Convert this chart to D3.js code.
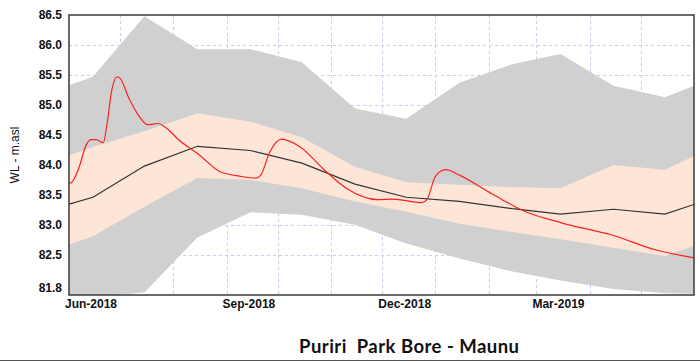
<!DOCTYPE html>
<html>
<head>
<meta charset="utf-8">
<script src="https://cdn.jsdelivr.net/npm/d3@7"></script>
<style>
  html, body { margin: 0; padding: 0; background: #fff; }
  svg { display: block; }
</style>
</head>
<body>
<div id="chart"></div>
<script>
// band / statistic points (mid-month)
const bandDates = ["2018-06-01","2018-06-15","2018-07-15","2018-08-15","2018-09-15","2018-10-15","2018-11-15",
  "2018-12-15","2019-01-15","2019-02-15","2019-03-15","2019-04-15","2019-05-15","2019-06-01"];
const maxVals    = [85.33, 85.47, 86.48, 85.93, 85.93, 85.71, 84.94, 84.77, 85.37, 85.68, 85.85, 85.32, 85.13, 85.32];
const upperVals  = [84.16, 84.30, 84.56, 84.86, 84.72, 84.46, 83.97, 83.71, 83.67, 83.63, 83.61, 84.00, 83.92, 84.15];
const medianVals = [83.345, 83.46, 83.98, 84.31, 84.24, 84.03, 83.68, 83.46, 83.39, 83.27, 83.18, 83.26, 83.18, 83.34];
const lowerVals  = [82.67, 82.81, 83.30, 83.78, 83.75, 83.61, 83.39, 83.22, 83.02, 82.88, 82.76, 82.62, 82.48, 82.65];
const minVals    = [81.75, 81.80, 81.87, 82.79, 83.21, 83.17, 83.00, 82.69, 82.44, 82.22, 82.07, 81.93, 81.86, 81.85];

// observed water level
const obsDates = ["2018-06-01","2018-06-03","2018-06-07","2018-06-11","2018-06-14","2018-06-17","2018-06-21","2018-06-23",
  "2018-06-26","2018-06-29","2018-07-01","2018-07-06","2018-07-12","2018-07-17","2018-07-23","2018-07-28","2018-08-04",
  "2018-08-16","2018-08-28","2018-09-09","2018-09-18","2018-09-21","2018-09-26","2018-10-03","2018-10-14","2018-10-28",
  "2018-11-10","2018-11-28","2018-12-07","2018-12-24","2018-12-27","2019-01-01","2019-01-07","2019-01-15","2019-02-01",
  "2019-02-09","2019-02-21","2019-03-16","2019-04-14","2019-05-10","2019-06-01"];
const obsVals = [83.69, 83.72, 83.97, 84.33, 84.42, 84.42, 84.37, 84.64,
  85.25, 85.47, 85.44, 85.11, 84.81, 84.67, 84.69, 84.61, 84.42,
  84.17, 83.89, 83.81, 83.78, 83.83, 84.20, 84.43, 84.30, 83.92,
  83.61, 83.42, 83.43, 83.37, 83.42, 83.81, 83.92, 83.83, 83.55,
  83.42, 83.24, 83.03, 82.83, 82.58, 82.45];

const yTicks = [81.83, 82.5, 83.0, 83.5, 84.0, 84.5, 85.0, 85.5, 86.0, 86.5];
const xLabelDates = ["2018-06-01","2018-09-01","2018-12-01","2019-03-01"];
const title = "Puriri  Park Bore - Maunu";
const yTitle = "WL - m.asl";

const W = 700, H = 362;
const margin = { top: 15, right: 6, bottom: 67, left: 69 };
const pw = W - margin.left - margin.right;
const ph = H - margin.top - margin.bottom;

const parse = d3.timeParse("%Y-%m-%d");
const fmtX = d3.timeFormat("%b-%Y");

const svg = d3.select("#chart").append("svg")
  .attr("width", W).attr("height", H);

svg.append("rect").attr("width", W).attr("height", H).attr("fill", "#fff");

const g = svg.append("g").attr("transform", `translate(${margin.left},${margin.top})`);

const x = d3.scaleTime()
  .domain([parse("2018-06-01"), parse("2019-06-01")])
  .range([0, pw]);
const y = d3.scaleLinear()
  .domain([81.83, 86.5])
  .range([ph, 0]);

g.append("clipPath").attr("id", "clip")
  .append("rect").attr("width", pw).attr("height", ph);

// grid
const grid = g.append("g").attr("stroke", "#c9c9f5").attr("stroke-dasharray", "3,3").attr("stroke-width", 1);
grid.selectAll("line.h").data(yTicks.slice(1, -1)).enter().append("line")
  .attr("x1", 0).attr("x2", pw)
  .attr("y1", d => Math.round(y(d)) + 0.5).attr("y2", d => Math.round(y(d)) + 0.5);
grid.selectAll("line.v").data(d3.timeMonth.range(parse("2018-07-01"), parse("2019-06-01"))).enter().append("line")
  .attr("y1", 0).attr("y2", ph)
  .attr("x1", d => Math.round(x(d)) + 0.5).attr("x2", d => Math.round(x(d)) + 0.5);

const band = bandDates.map((d, i) => ({
  date: parse(d), max: maxVals[i], up: upperVals[i], med: medianVals[i], lo: lowerVals[i], min: minVals[i]
}));
const obs = obsDates.map((d, i) => ({ date: parse(d), v: obsVals[i] }));

const plot = g.append("g").attr("clip-path", "url(#clip)");

plot.append("path").datum(band)
  .attr("fill", "#d0d0d0")
  .attr("d", d3.area().x(d => x(d.date)).y0(d => y(d.min)).y1(d => y(d.max)));

plot.append("path").datum(band)
  .attr("fill", "#fde5d7")
  .attr("d", d3.area().x(d => x(d.date)).y0(d => y(d.lo)).y1(d => y(d.up)));

plot.append("path").datum(band)
  .attr("fill", "none").attr("stroke", "#333").attr("stroke-width", 1.2)
  .attr("d", d3.line().x(d => x(d.date)).y(d => y(d.med)));

plot.append("path").datum(obs)
  .attr("fill", "none").attr("stroke", "#ff2020").attr("stroke-width", 1.2)
  .attr("d", d3.line().curve(d3.curveMonotoneX).x(d => x(d.date)).y(d => y(d.v)));

// frame
g.append("rect").attr("width", pw).attr("height", ph)
  .attr("fill", "none").attr("stroke", "#3a3a3a").attr("stroke-width", 1.5);

// y tick labels
g.selectAll("text.yt").data(yTicks).enter().append("text")
  .attr("x", -7)
  .attr("y", (d, i) => y(d) - (i === 0 ? 7 : 0))
  .attr("dy", "0.35em")
  .attr("text-anchor", "end")
  .attr("font-family", "Liberation Sans, Arial, sans-serif")
  .attr("font-weight", "bold").attr("font-size", 12).attr("fill", "#111")
  .text(d => d3.format(".1f")(d));

// x tick labels
g.selectAll("text.xt").data(xLabelDates.map(parse)).enter().append("text")
  .attr("x", d => x(d) - 4)
  .attr("y", ph + 13)
  .attr("text-anchor", "start")
  .attr("font-family", "Liberation Sans, Arial, sans-serif")
  .attr("font-weight", "bold").attr("font-size", 12).attr("fill", "#111")
  .text(d => fmtX(d));

// y title
svg.append("text")
  .attr("transform", `translate(19,${margin.top + ph / 2}) rotate(-90)`)
  .attr("text-anchor", "middle")
  .attr("font-family", "Liberation Sans, Arial, sans-serif")
  .attr("font-size", 12).attr("fill", "#111")
  .text(yTitle);

// chart title
svg.append("text")
  .attr("x", 409).attr("y", 353)
  .attr("text-anchor", "middle")
  .attr("font-family", "Lato, 'Open Sans', sans-serif")
  .attr("font-weight", "bold").attr("font-size", 18.5).attr("fill", "#111")
  .attr("textLength", 220).attr("lengthAdjust", "spacing")
  .style("white-space", "pre")
  .text(title);

// bottom rule
svg.append("line").attr("x1", 0).attr("x2", W).attr("y1", 360.5).attr("y2", 360.5)
  .attr("stroke", "#555").attr("stroke-width", 1);
</script>
</body>
</html>
